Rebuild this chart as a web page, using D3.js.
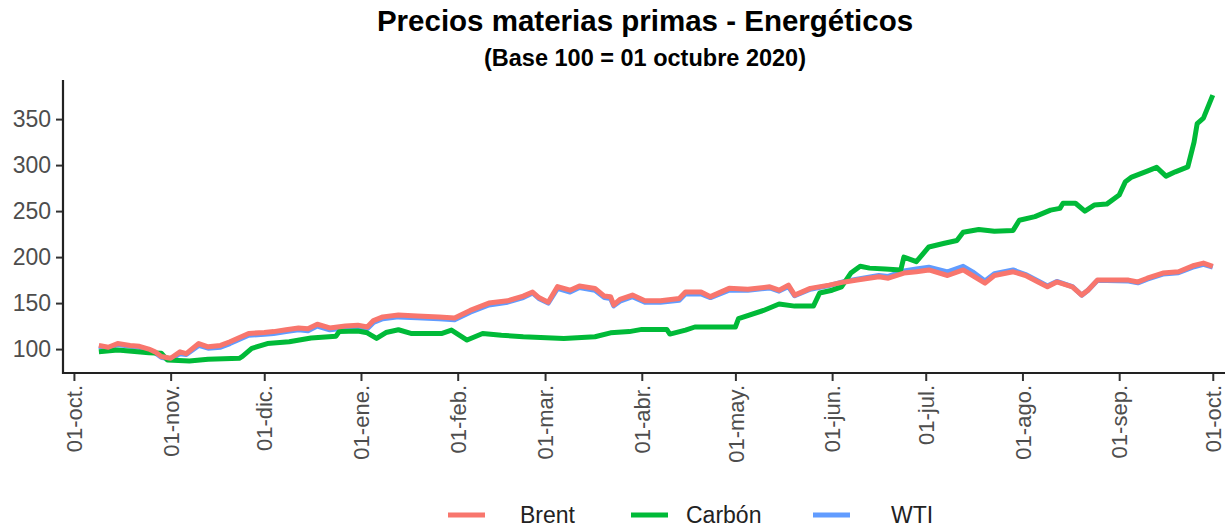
<!DOCTYPE html>
<html>
<head>
<meta charset="utf-8">
<script src="https://cdn.jsdelivr.net/npm/d3@7"></script>
<style>
  html, body { margin: 0; padding: 0; background: #fff; }
  svg { display: block; font-family: "Liberation Sans", Arial, sans-serif; }
</style>
</head>
<body>
<svg id="chart" width="1230" height="527"></svg>
<script>
// ---------------- DATA ----------------
const seriesNames = ["Brent", "Carbón", "WTI"];
const seriesColors = ["#F8766D", "#00BA38", "#619CFF"];

const brentDates = ["2020-10-09","2020-10-12","2020-10-15","2020-10-19","2020-10-22","2020-10-25","2020-10-27","2020-10-29","2020-11-01","2020-11-04","2020-11-06","2020-11-10","2020-11-13","2020-11-17","2020-11-20","2020-11-26","2020-12-01","2020-12-04","2020-12-08","2020-12-12","2020-12-15","2020-12-18","2020-12-22","2020-12-27","2020-12-31","2021-01-03","2021-01-05","2021-01-08","2021-01-13","2021-01-19","2021-01-26","2021-01-31","2021-02-05","2021-02-11","2021-02-17","2021-02-22","2021-02-25","2021-02-27","2021-03-02","2021-03-05","2021-03-09","2021-03-12","2021-03-17","2021-03-20","2021-03-22","2021-03-23","2021-03-25","2021-03-29","2021-04-02","2021-04-07","2021-04-13","2021-04-15","2021-04-20","2021-04-23","2021-04-29","2021-05-05","2021-05-12","2021-05-15","2021-05-18","2021-05-20","2021-05-25","2021-05-31","2021-06-05","2021-06-09","2021-06-16","2021-06-19","2021-06-24","2021-06-28","2021-07-02","2021-07-08","2021-07-13","2021-07-16","2021-07-20","2021-07-23","2021-07-29","2021-08-02","2021-08-06","2021-08-09","2021-08-12","2021-08-17","2021-08-20","2021-08-22","2021-08-25","2021-08-28","2021-09-04","2021-09-07","2021-09-10","2021-09-15","2021-09-20","2021-09-25","2021-09-28","2021-10-01"];
const brentValues = [104,102,106,104,103,100,97,92,90,97,95,106,102.5,104,108,117,118,119,121,123,122,127,123,125,126,124,131,135,137,136,135,133.7,142,150,152.5,157.6,162,156,151,168,164,168.5,166,157.6,157,148,154,158.7,152.5,152.5,155,162,162,157,166,165,167.7,164,169.5,158.7,166,169.5,173,175,178.6,177,182.6,184,186,180,186,180,171.7,180,184,180,173,167.7,173,167.7,158.7,164,175,175,175,173,177,182.6,184,191,193.5,190];

const wtiDates = brentDates;
const wtiValues = [103,101,105,103,102,99,96,91,89,95,94,104,101,102,106,115,116,117,119,121,120,125,121,123,124,122,129,133,135,134,133,132,140,148,151,156,161,155,150,166,162,167,164,156,155,147,152,157,151,151,153,160,160,156,164,164,166.5,163,168,158,165,169,173.5,176,180,179,185,187,189,184,190,184,174,182,186,181,174,168.5,173.5,168,158.5,164,174.5,174.5,174,172,176,181.5,183,189.5,192,189];

const carbonDates = ["2020-10-09","2020-10-15","2020-10-25","2020-10-29","2020-10-31","2020-11-07","2020-11-13","2020-11-23","2020-11-24","2020-11-27","2020-12-02","2020-12-09","2020-12-16","2020-12-24","2020-12-25","2020-12-31","2021-01-03","2021-01-06","2021-01-09","2021-01-13","2021-01-17","2021-01-27","2021-01-30","2021-02-04","2021-02-09","2021-02-15","2021-02-22","2021-03-07","2021-03-17","2021-03-22","2021-03-28","2021-04-01","2021-04-09","2021-04-10","2021-04-15","2021-04-18","2021-05-01","2021-05-02","2021-05-10","2021-05-15","2021-05-20","2021-05-26","2021-05-28","2021-06-01","2021-06-04","2021-06-07","2021-06-10","2021-06-13","2021-06-18","2021-06-23","2021-06-24","2021-06-28","2021-07-02","2021-07-07","2021-07-11","2021-07-13","2021-07-18","2021-07-23","2021-07-29","2021-07-31","2021-08-05","2021-08-10","2021-08-13","2021-08-14","2021-08-18","2021-08-21","2021-08-24","2021-08-28","2021-09-01","2021-09-03","2021-09-05","2021-09-10","2021-09-13","2021-09-16","2021-09-19","2021-09-23","2021-09-25","2021-09-26","2021-09-28","2021-10-01"];
const carbonValues = [97,99,96,95.5,88,87,89,90,92,100.7,106,108,112,114,119,119.6,117.7,111.6,118,121,117,117,120.6,109.8,117,115,113.4,111.6,113.4,117.7,119,121.4,121.4,116.3,120.6,124,124,133,142,149,146.7,146.7,161,164,167.7,182.6,190,188,187,186,200,195,211,215,218,227,230,228,229,240,244,251,253,258.5,258.5,250,256.5,257.6,267.4,282,287,293.5,297.5,288,292.7,298,325,345,351,376];

const yTickValues = [100, 150, 200, 250, 300, 350];
const xTickDates = ["2020-10-01","2020-11-01","2020-12-01","2021-01-01","2021-02-01","2021-03-01","2021-04-01","2021-05-01","2021-06-01","2021-07-01","2021-08-01","2021-09-01","2021-10-01"];
const xTickLabels = ["01-oct.","01-nov.","01-dic.","01-ene.","01-feb.","01-mar.","01-abr.","01-may.","01-jun.","01-jul.","01-ago.","01-sep.","01-oct."];

const titleText = "Precios materias primas - Energéticos";
const subtitleText = "(Base 100 = 01 octubre 2020)";

// ---------------- CHART ----------------
const parse = d3.timeParse("%Y-%m-%d");
const svg = d3.select("#chart");

const plot = { left: 63, right: 1225, top: 80, bottom: 373 };

const x = d3.scaleTime()
  .domain([new Date(2020, 8, 27, 12), new Date(2021, 9, 4, 22)])
  .range([plot.left, plot.right]);
const y = d3.scaleLinear()
  .domain([74, 392.5])
  .range([plot.bottom, plot.top]);

function build(dates, values) {
  return dates.map((d, i) => ({ date: parse(d), value: values[i] }));
}
const series = [
  { name: "WTI", color: seriesColors[2], data: build(wtiDates, wtiValues) },
  { name: "Carbón", color: seriesColors[1], data: build(carbonDates, carbonValues) },
  { name: "Brent", color: seriesColors[0], data: build(brentDates, brentValues) }
];

const line = d3.line().x(d => x(d.date)).y(d => y(d.value));

svg.append("g").selectAll("path")
  .data(series)
  .join("path")
  .attr("d", d => line(d.data))
  .attr("fill", "none")
  .attr("stroke", d => d.color)
  .attr("stroke-width", 5)
  .attr("stroke-linejoin", "round")
  .attr("stroke-linecap", "butt");

const tickFont = "Liberation Sans, Arial, sans-serif";

// Y axis
const yAxis = svg.append("g")
  .attr("transform", `translate(${plot.left},0)`)
  .call(d3.axisLeft(y).tickValues(yTickValues).tickSize(7).tickPadding(5));
yAxis.select(".domain").remove();
yAxis.selectAll(".tick line").attr("stroke", "#333").attr("stroke-width", 2);
yAxis.selectAll(".tick text")
  .attr("fill", "#4d4d4d")
  .style("font-size", "23px")
  .style("font-family", tickFont);
svg.append("line")
  .attr("x1", plot.left).attr("x2", plot.left)
  .attr("y1", plot.top).attr("y2", plot.bottom + 1)
  .attr("stroke", "#222").attr("stroke-width", 2.2);

// X axis
const xAxis = svg.append("g")
  .attr("transform", `translate(0,${plot.bottom})`)
  .call(d3.axisBottom(x)
    .tickValues(xTickDates.map(parse))
    .tickFormat((d, i) => xTickLabels[i])
    .tickSize(8)
    .tickPadding(4));
xAxis.select(".domain").remove();
xAxis.selectAll(".tick line").attr("stroke", "#333").attr("stroke-width", 2);
xAxis.selectAll(".tick text")
  .attr("fill", "#4d4d4d")
  .style("font-size", "22px")
  .style("font-family", tickFont)
  .attr("text-anchor", "end")
  .attr("dy", "0.35em")
  .attr("transform", "translate(0,4) rotate(-90)")
  .attr("x", -8)
  .attr("y", 0);
svg.append("line")
  .attr("x1", plot.left - 1).attr("x2", plot.right)
  .attr("y1", plot.bottom).attr("y2", plot.bottom)
  .attr("stroke", "#222").attr("stroke-width", 2.2);

// Titles
svg.append("text")
  .attr("x", 645).attr("y", 31)
  .attr("text-anchor", "middle")
  .style("font-size", "29.5px").style("font-weight", "bold")
  .attr("fill", "#000")
  .text(titleText);
svg.append("text")
  .attr("x", 645).attr("y", 66)
  .attr("text-anchor", "middle")
  .style("font-size", "23.5px").style("font-weight", "bold")
  .attr("fill", "#000")
  .text(subtitleText);

// Legend
const legendItems = [
  { name: seriesNames[0], color: seriesColors[0], kx: 448, tx: 520 },
  { name: seriesNames[1], color: seriesColors[1], kx: 631, tx: 686 },
  { name: seriesNames[2], color: seriesColors[2], kx: 813, tx: 891 }
];
const lg = svg.append("g");
legendItems.forEach(it => {
  lg.append("line")
    .attr("x1", it.kx).attr("x2", it.kx + 37)
    .attr("y1", 515).attr("y2", 515)
    .attr("stroke", it.color).attr("stroke-width", 5);
  lg.append("text")
    .attr("x", it.tx).attr("y", 515)
    .attr("dy", "0.35em")
    .style("font-size", "23px")
    .attr("fill", "#222")
    .text(it.name);
});
</script>
</body>
</html>
